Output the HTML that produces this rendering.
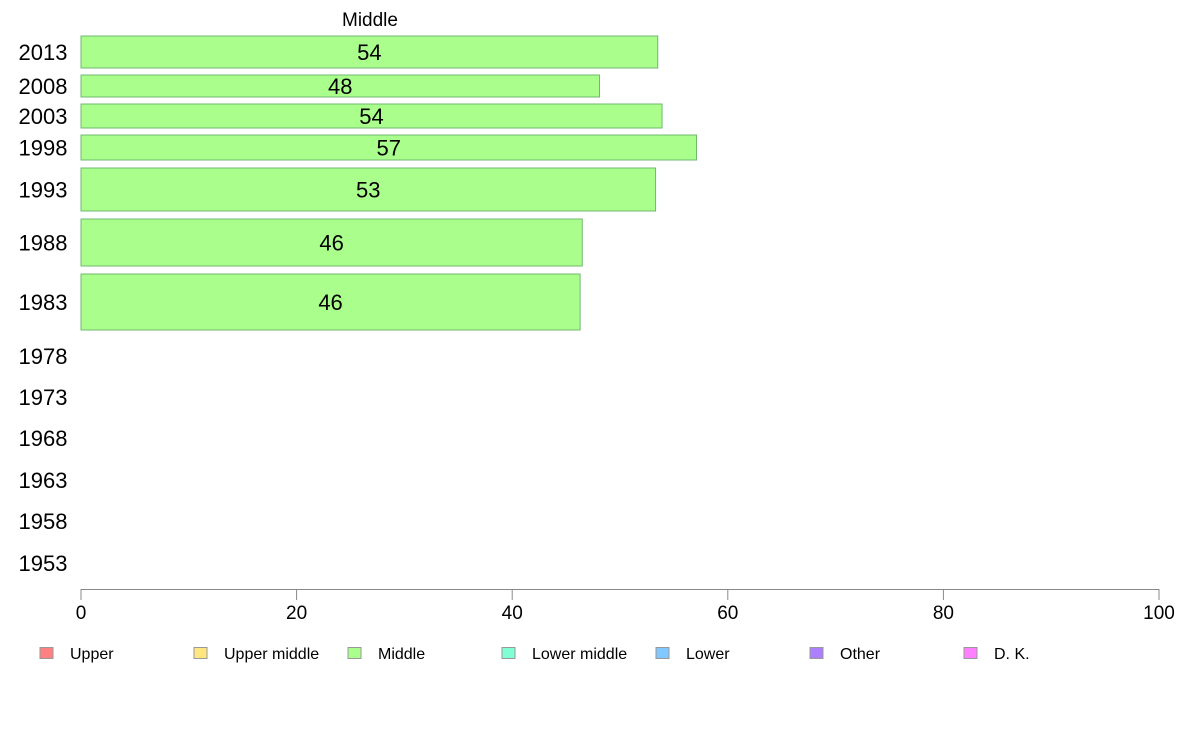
<!DOCTYPE html>
<html><head><meta charset="utf-8"><style>
body{margin:0;background:#fff;}
svg{display:block;font-family:"Liberation Sans",sans-serif;}
</style></head><body>
<svg id="chart" width="1188" height="736"></svg>
<script>
const years=["2013","2008","2003","1998","1993","1988","1983","1978","1973","1968","1963","1958","1953"];
const middleValues=[53.5,48.1,53.9,57.1,53.3,46.5,46.3,null,null,null,null,null,null];
const valueLabels=["54","48","54","57","53","46","46","","","","","",""];
const xTicks=[0,20,40,60,80,100];
const legendLabels=["Upper","Upper middle","Middle","Lower middle","Lower","Other","D. K."];
const legendColors=["#ff8080","#ffe680","#aaff8c","#80ffd4","#80c8ff","#aa80ff","#ff80ff"];
// layout (pixel bands per row: top, bottom)
const rowBands=[[36,68],[75,97],[104,128],[135,160],[168,211],[219,266],[274,330],[340,372],[381,413],[422,454],[464,496],[505,537],[547,579]];
const NS="http://www.w3.org/2000/svg";
const svg=document.getElementById('chart');
function mk(t,a,p){const e=document.createElementNS(NS,t);for(const k in a)e.setAttribute(k,a[k]);(p||svg).appendChild(e);return e;}
const x0=81,x1=1159;
const xs=v=>x0+(v/100)*(x1-x0);
let t=mk('text',{x:370,y:26,'font-size':19,'text-anchor':'middle',fill:'#000'});
t.textContent='Middle';


years.forEach((y,i)=>{
  const [a,b]=rowBands[i];const cy=(a+b)/2;
  const lab=mk('text',{x:43,y:cy+8,'font-size':22,'text-anchor':'middle',fill:'#000'});
  lab.textContent=y;
  
  
  const v=middleValues[i];
  if(v!=null){
    const r=mk('rect',{x:x0,y:a,width:xs(v)-x0,height:b-a,fill:'#aaff8c',stroke:'#6fb86f','stroke-width':1});
    
    
    const vl=mk('text',{x:(x0+xs(v))/2,y:cy+8,'font-size':22,'text-anchor':'middle',fill:'#000'});
    vl.textContent=valueLabels[i];
    
    
  }
});
const ax=mk('line',{x1:x0,x2:x1,y1:589.5,y2:589.5,stroke:'#888','stroke-width':1});


xTicks.forEach(v=>{
  const tk=mk('line',{x1:xs(v),x2:xs(v),y1:589,y2:600,stroke:'#888','stroke-width':1});
  
  
  const tl=mk('text',{x:xs(v),y:619,'font-size':19,'text-anchor':'middle',fill:'#000'});
  tl.textContent=String(v);
  
  
});
legendLabels.forEach((l,i)=>{
  const lx=40+i*154;
  const g=mk('g',{});
  
  
  mk('rect',{x:lx,y:647.5,width:13,height:11,fill:legendColors[i],stroke:'#999','stroke-width':1},g);
  const lt=mk('text',{x:lx+30,y:659,'font-size':16,fill:'#000'},g);
  lt.textContent=l;
});
</script>
</body></html>
